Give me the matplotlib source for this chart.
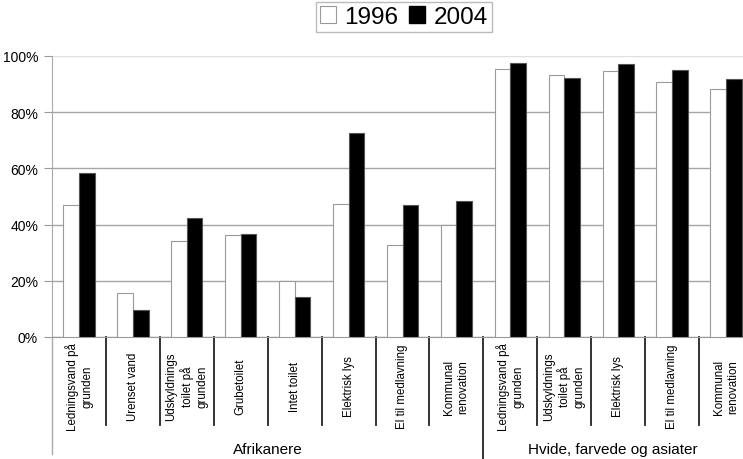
import matplotlib.pyplot as plt
import matplotlib.transforms as mtransforms
from matplotlib.patches import Patch
import numpy as np

categories = ["Ledningsvand på\ngrunden", "Urenset vand", "Udskyldnings\ntoilet på\ngrunden",
              "Grubetoilet", "Intet toilet", "Elektrisk lys", "El til medlavning",
              "Kommunal\nrenovation",
              "Ledningsvand på\ngrunden", "Udskyldnings\ntoilet på\ngrunden", "Elektrisk lys",
              "El til medlavning", "Kommunal\nrenovation"]
v1996 = [47.0, 15.8, 34.0, 36.2, 19.9, 47.5, 32.7, 39.8, 95.3, 93.1, 94.8, 90.9, 88.4]
v2004 = [58.3, 9.5, 42.5, 36.7, 14.1, 72.6, 47.0, 48.3, 97.5, 92.2, 97.0, 94.9, 91.7]
groups = ["Afrikanere", "Hvide, farvede og asiater"]
group_sizes = [8, 5]
yticks = [0, 20, 40, 60, 80, 100]

narrow = ["Liberation Sans Narrow", "Liberation Sans", "DejaVu Sans"]
plt.rcParams["font.family"] = narrow

W, H = 743, 460
fig = plt.figure(figsize=(W / 100, H / 100), dpi=100)
ax = fig.add_axes([52 / W, (H - 338) / H, (W - 52) / W, (338 - 57) / H])

x = np.arange(len(categories))
bw = 0.29
ax.bar(x + 0.5 - bw / 2, v1996, bw, color="white", edgecolor="#9a9a9a", linewidth=0.8, zorder=3)
ax.bar(x + 0.5 + bw / 2, v2004, bw, color="black", edgecolor="#555555", linewidth=0.8, zorder=3)

xmax = (W - 52) / ((753 - 52) / 13)
ax.set_xlim(0, xmax)
ax.set_ylim(0, 100)
ax.set_yticks(yticks)
ax.set_yticklabels([f"{t}%" for t in yticks], fontsize=10)
ax.set_xticks([])
ax.tick_params(axis="y", length=6, color="#999999", pad=4)
ax.set_axisbelow(True)
ax.grid(axis="y", color="#a6a6a6", linewidth=1)
ax.get_ygridlines()[-1].set_color("#e0e0e0")
for s in ["top", "right"]:
    ax.spines[s].set_visible(False)
ax.spines["bottom"].set_color("#999999")
ax.spines["left"].set_color("#aaaaaa")

trans = mtransforms.blended_transform_factory(ax.transData, ax.transAxes)
ph = 338 - 57
# y axis extension into label area
ax.plot([0, 0], [0, -(455 - 338) / ph], color="#aaaaaa", lw=1, transform=trans, clip_on=False)
# category separators
for i in range(1, len(categories) + 1):
    if i == group_sizes[0]:
        continue
    ax.plot([i, i], [0, -(426 - 338) / ph], color="#222222", lw=1.3, transform=trans, clip_on=False)
ax.plot([group_sizes[0]] * 2, [0, -(462 - 338) / ph], color="#222222", lw=1.3,
        transform=trans, clip_on=False)

for i, lab in enumerate(categories):
    ax.text(i + 0.5, -(387 - 338) / ph, lab, rotation=90, ha="center", va="center",
            ma="center", fontsize=8.3, linespacing=1.25, transform=trans)

ax.text(group_sizes[0] / 2, -(450 - 338) / ph, groups[0], ha="center", va="center",
        fontsize=11, transform=trans)
ax.text((group_sizes[0] + xmax) / 2, -(450 - 338) / ph, groups[1], ha="center", va="center",
        fontsize=11, transform=trans)

handles = [Patch(facecolor="white", edgecolor="#999999", linewidth=0.8),
           Patch(facecolor="black", edgecolor="black")]
leg = fig.legend(handles, ["1996", "2004"], loc="center", ncol=2,
                 bbox_to_anchor=(404 / W, 1 - 18 / H), frameon=True, fancybox=False,
                 edgecolor="#aaaaaa", handlelength=0.65, handleheight=0.65,
                 handletextpad=0.35, columnspacing=0.45, borderpad=0.15,
                 prop={"family": ["Liberation Sans", "DejaVu Sans"], "size": 17.5})
leg.get_frame().set_linewidth(1)

fig.savefig("out.png", dpi=100)
